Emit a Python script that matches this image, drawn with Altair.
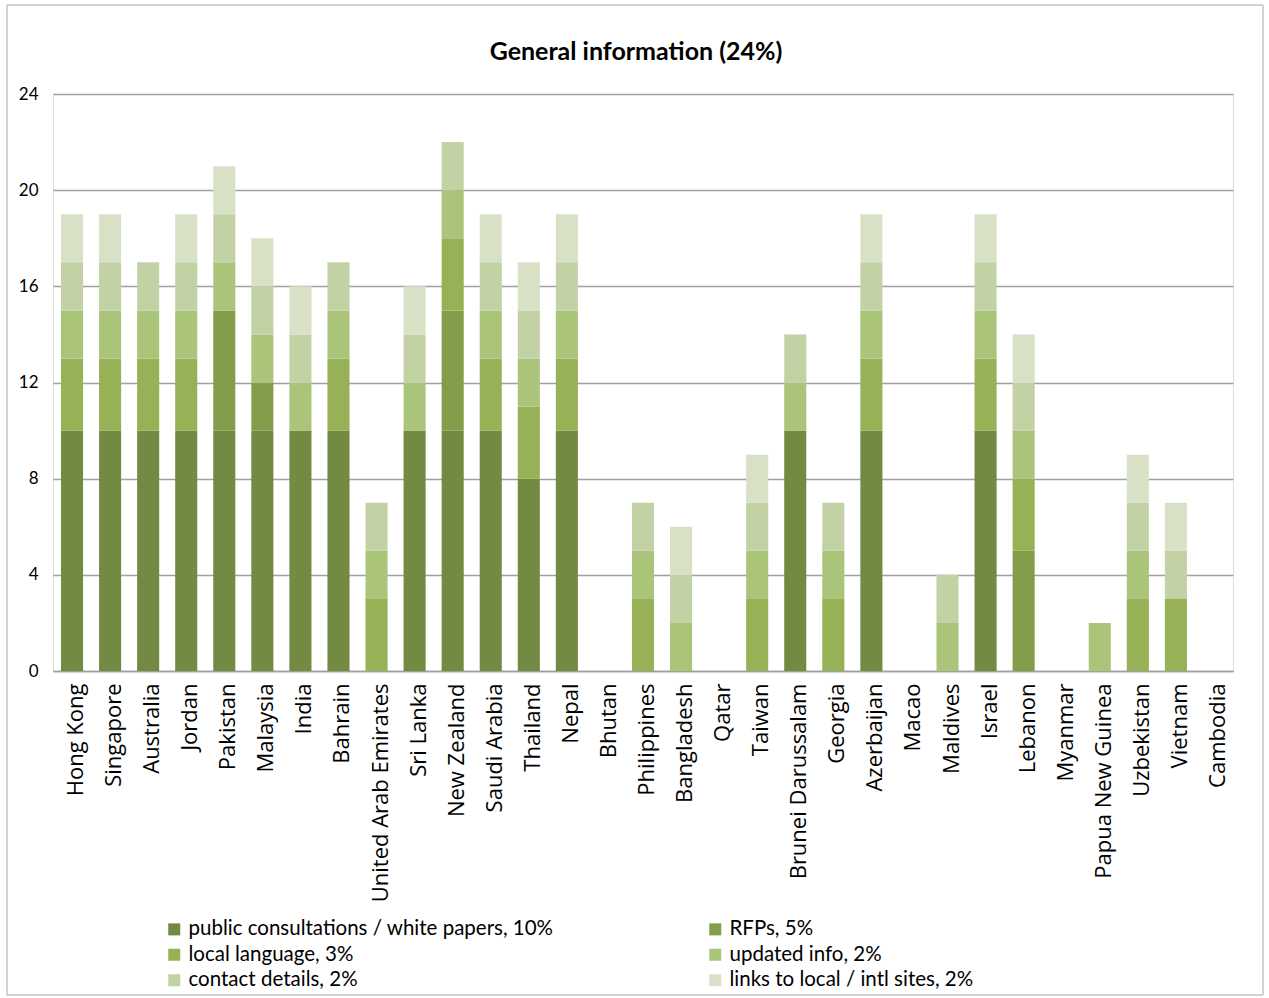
import altair as alt
import pandas as pd

countries = ["Hong Kong", "Singapore", "Australia", "Jordan", "Pakistan", "Malaysia",
             "India", "Bahrain", "United Arab Emirates", "Sri Lanka", "New Zealand",
             "Saudi Arabia", "Thailand", "Nepal", "Bhutan", "Philippines", "Bangladesh",
             "Qatar", "Taiwan", "Brunei Darussalam", "Georgia", "Azerbaijan", "Macao",
             "Maldives", "Israel", "Lebanon", "Myanmar", "Papua New Guinea", "Uzbekistan",
             "Vietnam", "Cambodia"]

categories = ["public consultations / white papers, 10%", "RFPs, 5%", "local language, 3%",
              "updated info, 2%", "contact details, 2%", "links to local / intl sites, 2%"]
colors = ["#728a41", "#839e4b", "#96b156", "#aac47a", "#c3d2a5", "#d8e1c6"]

public_consultations = [10, 10, 10, 10, 10, 10, 10, 10, 0, 10, 10, 10, 8, 10, 0, 0, 0, 0, 0, 10, 0, 10, 0, 0, 10, 0, 0, 0, 0, 0, 0]
rfps                 = [0, 0, 0, 0, 5, 2, 0, 0, 0, 0, 5, 0, 0, 0, 0, 0, 0, 0, 0, 0, 0, 0, 0, 0, 0, 5, 0, 0, 0, 0, 0]
local_language       = [3, 3, 3, 3, 0, 0, 0, 3, 3, 0, 3, 3, 3, 3, 0, 3, 0, 0, 3, 0, 3, 3, 0, 0, 3, 3, 0, 0, 3, 3, 0]
updated_info         = [2, 2, 2, 2, 2, 2, 2, 2, 2, 2, 2, 2, 2, 2, 0, 2, 2, 0, 2, 2, 2, 2, 0, 2, 2, 2, 0, 2, 2, 0, 0]
contact_details      = [2, 2, 2, 2, 2, 2, 2, 2, 2, 2, 2, 2, 2, 2, 0, 2, 2, 0, 2, 2, 2, 2, 0, 2, 2, 2, 0, 0, 2, 2, 0]
links                = [2, 2, 0, 2, 2, 2, 2, 0, 0, 2, 0, 2, 2, 2, 0, 0, 2, 0, 2, 0, 0, 2, 0, 0, 2, 2, 0, 0, 2, 2, 0]

y_ticks = [0, 4, 8, 12, 16, 20, 24]
title_text = "General information (24%)"

series = [public_consultations, rfps, local_language, updated_info, contact_details, links]
rows = []
for ci, (cat, vals) in enumerate(zip(categories, series)):
    for country, v in zip(countries, vals):
        rows.append({"country": country, "category": cat, "value": v, "order": ci})
df = pd.DataFrame(rows)

bars = alt.Chart(df).mark_bar().encode(
    x=alt.X("country:N", sort=countries,
            scale=alt.Scale(paddingInner=0.42, paddingOuter=0.21),
            axis=alt.Axis(title=None, labelAngle=-90, labelFont="Open Sans",
                          labelFontSize=22, labelColor="#000000", labelPadding=12,
                          labelOffset=4,
                          ticks=False, domain=True, domainColor="#a0a0a0",
                          domainWidth=1.5, labelLimit=400)),
    y=alt.Y("value:Q", stack="zero",
            scale=alt.Scale(domain=[0, 24], nice=False),
            axis=alt.Axis(title=None, values=y_ticks, labelFont="Lato", labelFontSize=17,
                          labelColor="#000000", labelPadding=15, ticks=False, domain=False,
                          gridColor="#a0a0a0", gridWidth=1.5)),
    color=alt.Color("category:N", sort=categories,
                    scale=alt.Scale(domain=categories, range=colors),
                    legend=alt.Legend(title=None, orient="none", legendX=111, legendY=825,
                                      columns=2, direction="horizontal",
                                      columnPadding=151, rowPadding=4.5,
                                      symbolType="square", symbolSize=144,
                                      symbolStrokeWidth=0, labelFont="Lato",
                                      labelFontSize=20.5, labelColor="#000000",
                                      labelLimit=500, labelOffset=4)),
    order=alt.Order("order:Q"),
)

frame = alt.Chart(pd.DataFrame({"a": [0]})).mark_rect(
    fill=None, stroke="#a6a6a6", strokeWidth=1
).encode(
    x=alt.value(7 - 53), x2=alt.value(1263 - 53),
    y=alt.value(5 - 94), y2=alt.value(995 - 94),
)

title = alt.Chart(pd.DataFrame({"t": [title_text]})).mark_text(
    font="Lato", fontSize=25, fontWeight="bold", color="#000000",
    align="center", baseline="alphabetic"
).encode(
    text="t:N", x=alt.value(636 - 53), y=alt.value(60 - 94),
)

chart = alt.layer(bars, frame, title).properties(
    width=1180, height=577,
    autosize=alt.AutoSizeParams(type="none"),
    padding={"left": 53, "top": 94, "right": 36, "bottom": 327},
).configure_view(stroke=None).configure(background="#ffffff")

chart.save("out.html", embed_options={"renderer": "svg", "actions": False})
